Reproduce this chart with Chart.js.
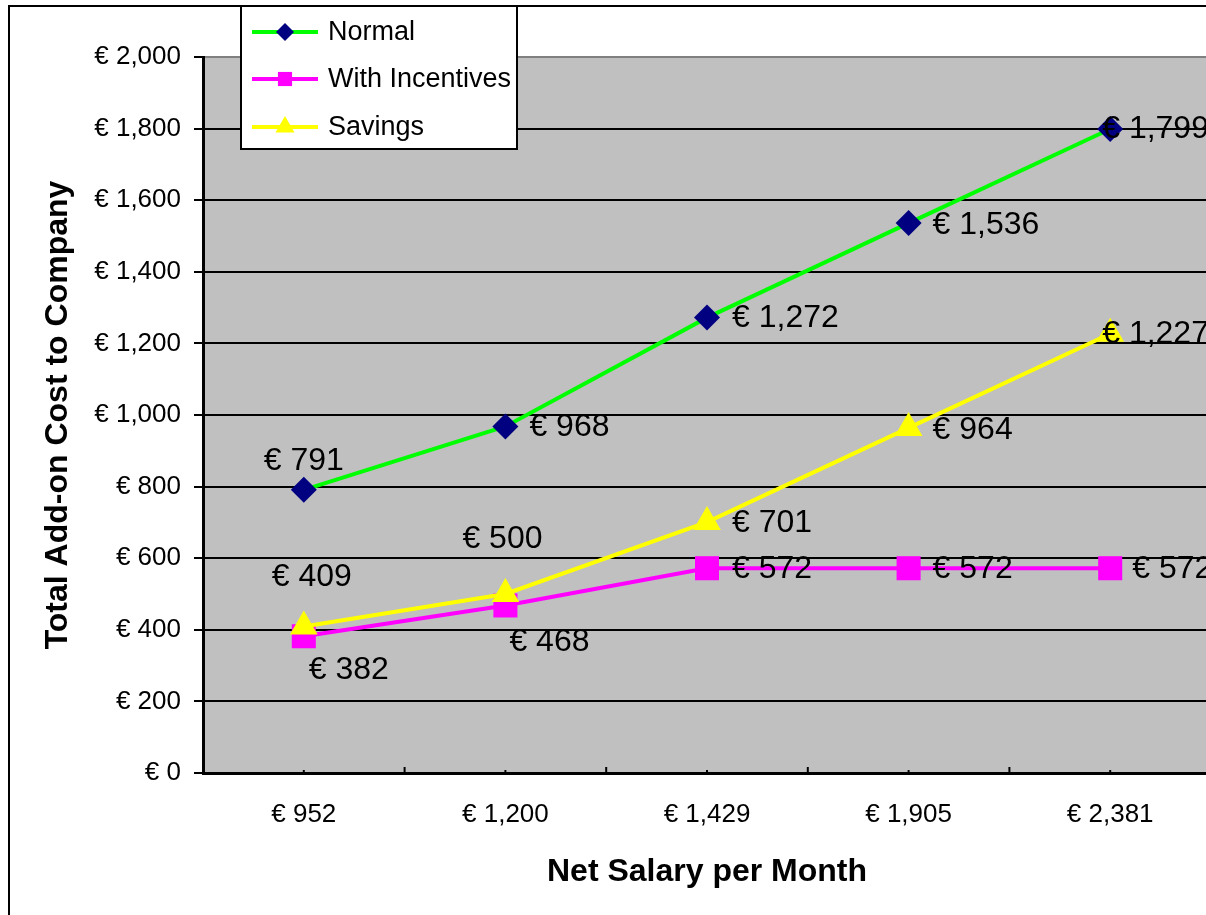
<!DOCTYPE html>
<html>
<head>
<meta charset="utf-8">
<script src="https://cdn.jsdelivr.net/npm/chart.js@4"></script>
<style>
  html, body { margin: 0; padding: 0; background: #fff; overflow: hidden; }
  canvas { display: block; }
</style>
</head>
<body>
<canvas id="grafica" width="1228" height="915"></canvas>
<script>
// --- Datos ---
const categorias = ['€ 952', '€ 1,200', '€ 1,429', '€ 1,905', '€ 2,381'];
const normal = [791, 968, 1272, 1536, 1799];
const conIncentivos = [382, 468, 572, 572, 572];
const ahorro = [409, 500, 701, 964, 1227];
const nombresSeries = ['Normal', 'With Incentives', 'Savings'];
const yMin = 0, yMax = 2000, yPaso = 200;

// posiciones de las etiquetas (inicio del texto respecto al punto)
const offsetsEtiquetas = [
    [[-40, -29], [24, 1], [25, 1], [24, 2], [-8, 0]],
    [[5, 34], [4, 37], [25, 1], [24, 1], [22, 1]],
    [[-32, -49], [-43, -55], [25, 1], [24, 2], [-8, 0]]
];

const FUENTE = '"Liberation Sans", Arial, sans-serif';
const euro = v => '€ ' + v.toLocaleString('en-US');

// --- Plugin: fondo, marco y ticks internos ---
const fondoPlugin = {
    id: 'fondo',
    beforeDraw(chart) {
        const { ctx, chartArea: a, width, height } = chart;
        ctx.save();
        ctx.fillStyle = '#fff';
        ctx.fillRect(0, 0, width, height);
        ctx.strokeStyle = '#000';
        ctx.lineWidth = 2;
        ctx.strokeRect(9, 6, width + 20, height + 20);
        ctx.fillStyle = '#c0c0c0';
        ctx.fillRect(a.left, a.top, a.right - a.left, a.bottom - a.top);
        ctx.restore();
    },
    afterDraw(chart) {
        const { ctx, chartArea: a } = chart;
        const x = chart.scales.x;
        ctx.save();
        ctx.strokeStyle = '#000';
        ctx.lineWidth = 2;
        const n = categorias.length;
        for (let i = 0; i < n; i++) {
            const c = x.getPixelForValue(i);
            ctx.beginPath(); ctx.moveTo(c, a.bottom); ctx.lineTo(c, a.bottom - 3); ctx.stroke();
            if (i < n - 1) {
                const b = (c + x.getPixelForValue(i + 1)) / 2;
                ctx.beginPath(); ctx.moveTo(b, a.bottom); ctx.lineTo(b, a.bottom - 6); ctx.stroke();
            }
        }
        ctx.restore();
    }
};

// --- Plugin: etiquetas de datos ---
const etiquetasPlugin = {
    id: 'etiquetas',
    afterDatasetsDraw(chart) {
        const { ctx } = chart;
        ctx.save();
        ctx.font = '32px ' + FUENTE;
        ctx.fillStyle = '#000';
        ctx.textAlign = 'left';
        ctx.textBaseline = 'middle';
        chart.data.datasets.forEach((ds, di) => {
            const meta = chart.getDatasetMeta(di);
            meta.data.forEach((p, i) => {
                const [dx, dy] = offsetsEtiquetas[di][i];
                ctx.fillText(euro(ds.data[i]), p.x + dx, p.y + dy);
            });
        });
        ctx.restore();
    }
};

// --- Plugin: leyenda con recuadro ---
function dibujarMarcador(ctx, estilo, r, x, y, color) {
    ctx.fillStyle = color;
    ctx.beginPath();
    if (estilo === 'rectRot') {
        ctx.moveTo(x, y - r); ctx.lineTo(x + r, y); ctx.lineTo(x, y + r); ctx.lineTo(x - r, y);
    } else if (estilo === 'rect') {
        const s = r * Math.SQRT1_2;
        ctx.rect(x - s, y - s, 2 * s, 2 * s);
    } else {
        ctx.moveTo(x, y - r);
        ctx.lineTo(x + r * Math.sin(Math.PI * 2 / 3), y + r / 2);
        ctx.lineTo(x - r * Math.sin(Math.PI * 2 / 3), y + r / 2);
    }
    ctx.closePath();
    ctx.fill();
}

const leyendaPlugin = {
    id: 'leyenda',
    afterDraw(chart) {
        const { ctx } = chart;
        ctx.save();
        ctx.fillStyle = '#fff';
        ctx.fillRect(241, 6, 276, 143);
        ctx.strokeStyle = '#000';
        ctx.lineWidth = 2;
        ctx.strokeRect(241, 6, 276, 143);
        ctx.font = '27px ' + FUENTE;
        ctx.textBaseline = 'middle';
        ctx.textAlign = 'left';
        const filas = [32, 79, 127];
        const radios = [9, 10, 11];
        chart.data.datasets.forEach((ds, i) => {
            const y = filas[i];
            ctx.strokeStyle = ds.borderColor;
            ctx.lineWidth = 4;
            ctx.beginPath(); ctx.moveTo(252, y); ctx.lineTo(318, y); ctx.stroke();
            dibujarMarcador(ctx, ds.pointStyle, radios[i], 285, y, ds.pointBackgroundColor);
            ctx.fillStyle = '#000';
            ctx.fillText(ds.label, 328, y + 1);
        });
        ctx.restore();
    }
};

const ctx = document.getElementById('grafica').getContext('2d');
new Chart(ctx, {
    type: 'line',
    data: {
        labels: categorias,
        datasets: [
            {
                label: nombresSeries[0], data: normal, order: 2,
                borderColor: '#00ff00', borderWidth: 4, tension: 0,
                pointStyle: 'rectRot', pointRadius: 13, pointBorderWidth: 0,
                pointBackgroundColor: '#000080', pointBorderColor: '#000080'
            },
            {
                label: nombresSeries[1], data: conIncentivos, order: 1,
                borderColor: '#ff00ff', borderWidth: 4, tension: 0,
                pointStyle: 'rect', pointRadius: 17, pointBorderWidth: 0,
                pointBackgroundColor: '#ff00ff', pointBorderColor: '#ff00ff'
            },
            {
                label: nombresSeries[2], data: ahorro, order: 0,
                borderColor: '#ffff00', borderWidth: 4, tension: 0,
                pointStyle: 'triangle', pointRadius: 16, pointBorderWidth: 0,
                pointBackgroundColor: '#ffff00', pointBorderColor: '#ffff00'
            }
        ]
    },
    options: {
        responsive: false,
        devicePixelRatio: 1,
        animation: false,
        events: [],
        layout: { padding: { top: 57, right: 15, left: 0, bottom: 0 } },
        plugins: { legend: { display: false }, tooltip: { enabled: false } },
        scales: {
            x: {
                offset: true,
                afterFit: s => { s.height = 142; },
                grid: { display: false },
                border: { display: true, color: '#000', width: 3 },
                ticks: { color: '#000', padding: 18, font: { family: FUENTE, size: 26 } },
                title: {
                    display: true, text: 'Net Salary per Month', color: '#000',
                    font: { family: FUENTE, size: 32, weight: 'bold' },
                    padding: { top: 0, bottom: 24 }
                }
            },
            y: {
                min: yMin, max: yMax,
                afterFit: s => { s.width = 203; },
                grid: {
                    color: c => (c.tick && c.tick.value === yMax) ? '#808080' : '#000',
                    lineWidth: 2, tickLength: 9, tickColor: '#000', tickWidth: 2
                },
                border: { display: true, color: '#000', width: 3 },
                ticks: {
                    stepSize: yPaso, color: '#000', padding: 13,
                    font: { family: FUENTE, size: 26 },
                    callback: v => euro(v)
                },
                title: {
                    display: true, text: 'Total Add-on Cost to Company', color: '#000',
                    font: { family: FUENTE, size: 32, weight: 'bold' },
                    padding: { top: 39, bottom: 0 }
                }
            }
        }
    },
    plugins: [fondoPlugin, etiquetasPlugin, leyendaPlugin]
});
</script>
</body>
</html>
